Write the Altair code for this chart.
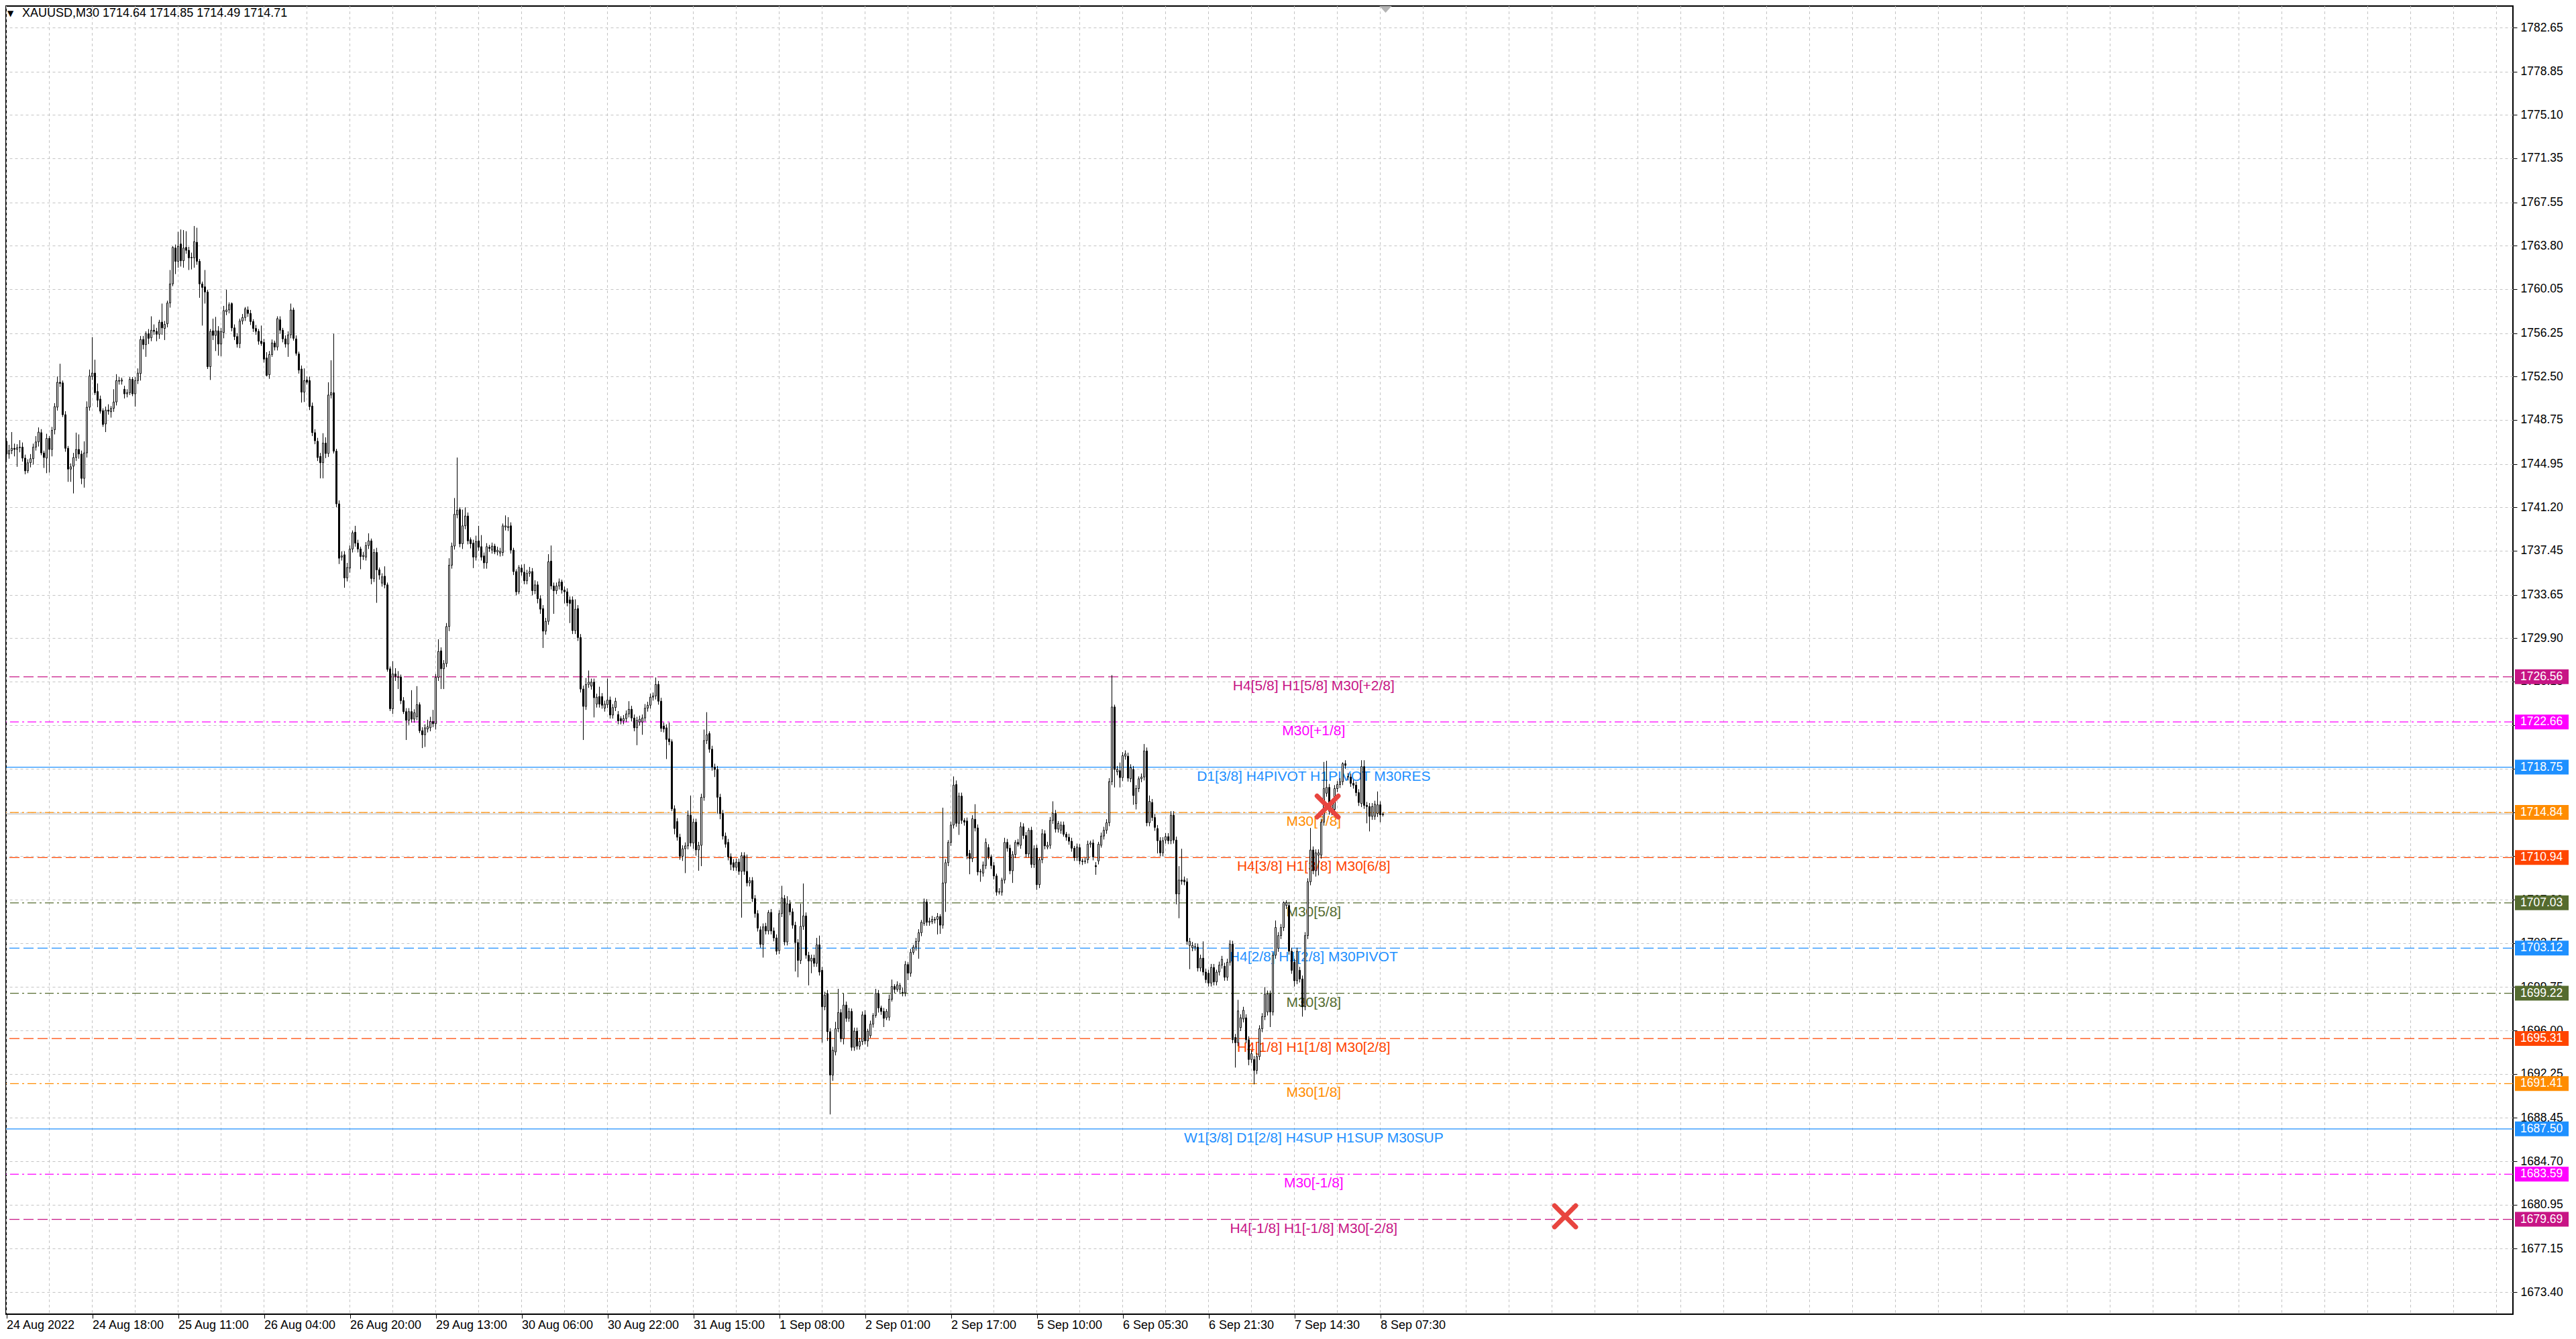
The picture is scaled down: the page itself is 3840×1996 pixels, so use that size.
import json
import altair as alt
import pandas as pd

# ---------------- data (XAUUSD, M30) ----------------
OPEN = [
1746.9,1745.8,1746.1,1746.3,1746.2,1746.35,1746.4,1745.45,1744.35,1745.05,
1745.4,1746.4,1746.85,1747.65,1745.9,1745.45,1747.15,1746.2,1747.9,1749.85,
1752.0,1751.95,1749.2,1746.3,1744.5,1744.75,1745.5,1746.2,1745.8,1743.7,
1745.9,1749.85,1752.5,1752.8,1751.2,1750.55,1749.55,1748.4,1749.6,1749.45,
1749.75,1750.3,1752.15,1752.1,1751.4,1751.0,1751.1,1752.25,1751.0,1752.15,
1752.75,1755.7,1755.25,1756.2,1755.85,1756.5,1756.4,1756.15,1757.2,1756.65,
1757.05,1758.85,1760.5,1763.6,1762.45,1763.95,1762.5,1763.65,1763.4,1762.75,
1762.75,1764.1,1762.45,1760.5,1760.25,1759.8,1753.35,1756.45,1756.05,1756.45,
1755.3,1756.3,1758.1,1758.25,1758.8,1756.7,1755.95,1755.35,1757.3,1757.6,
1758.25,1757.95,1757.25,1756.65,1756.4,1755.55,1755.45,1754.1,1752.65,1754.4,
1755.4,1755.05,1757.4,1756.5,1755.75,1755.3,1756.1,1758.25,1755.75,1754.45,
1753.15,1751.15,1752.2,1752.15,1749.95,1747.65,1746.9,1745.6,1745.05,1746.75,
1745.85,1750.9,1751.1,1746.05,1741.5,1736.9,1737.1,1735.1,1735.95,1737.6,
1739.05,1738.1,1737.6,1736.95,1736.9,1737.9,1738.3,1735.05,1737.3,1735.8,
1734.65,1735.25,1734.5,1727.25,1723.8,1726.8,1726.5,1726.55,1724.5,1723.55,
1722.8,1723.55,1722.9,1723.1,1724.15,1721.9,1721.55,1722.05,1722.15,1722.7,
1722.5,1726.5,1728.8,1727.25,1727.7,1730.9,1736.2,1737.85,1740.55,1741.0,
1738.05,1739.6,1740.45,1738.4,1738.1,1736.9,1738.3,1737.8,1737.0,1736.4,
1737.75,1737.5,1737.85,1737.35,1737.25,1737.3,1739.5,1739.45,1739.6,1737.5,
1735.65,1733.9,1735.95,1735.6,1734.85,1735.5,1735.65,1734.0,1734.5,1733.3,
1732.45,1730.5,1731.35,1736.55,1734.4,1734.0,1734.4,1734.75,1734.05,1733.9,
1733.2,1733.2,1730.55,1732.45,1729.95,1725.5,1724.0,1725.9,1725.75,1726.1,
1724.2,1724.85,1724.85,1723.85,1724.15,1724.55,1723.25,1723.9,1723.3,1722.95,
1722.75,1722.95,1723.35,1723.75,1723.0,1722.15,1722.65,1722.65,1723.0,1723.85,
1724.1,1724.8,1724.9,1725.9,1724.45,1722.3,1722.15,1721.2,1720.95,1715.15,
1714.05,1712.7,1711.05,1711.7,1711.95,1714.6,1712.2,1714.0,1711.6,1712.0,
1716.15,1721.05,1721.65,1720.3,1718.75,1718.55,1716.15,1714.75,1712.8,1712.25,
1711.0,1710.5,1710.1,1710.55,1709.75,1711.1,1709.75,1708.75,1708.95,1707.4,
1706.1,1704.7,1703.45,1705.0,1704.6,1706.2,1704.6,1704.0,1702.9,1706.1,
1707.4,1703.65,1706.95,1706.25,1705.1,1703.6,1702.05,1705.0,1705.9,1702.5,
1702.0,1702.25,1701.8,1703.4,1701.2,1698.05,1699.2,1695.9,1692.15,1694.15,
1696.15,1697.55,1695.3,1698.2,1697.05,1697.65,1694.55,1695.95,1694.65,1695.05,
1697.35,1695.1,1695.55,1696.55,1697.3,1699.2,1697.95,1697.65,1697.1,1697.15,
1698.7,1699.8,1699.55,1699.55,1699.3,1699.25,1701.7,1700.95,1702.75,1703.2,
1703.7,1704.45,1705.25,1707.1,1705.35,1705.4,1705.6,1705.6,1705.85,1705.1,
1708.75,1710.5,1712.25,1713.75,1717.25,1713.9,1716.25,1714.15,1714.1,1711.3,
1710.85,1714.25,1713.5,1709.7,1709.6,1710.25,1711.8,1711.0,1710.25,1709.35,
1707.95,1707.95,1709.0,1712.25,1711.75,1709.8,1711.2,1712.25,1712.0,1713.6,
1712.85,1711.25,1713.3,1710.35,1711.75,1708.6,1710.75,1713.0,1711.85,1712.0,
1714.15,1714.75,1713.4,1713.3,1713.75,1712.95,1712.7,1712.35,1711.75,1710.95,
1711.8,1710.65,1710.6,1710.75,1712.1,1712.2,1710.25,1710.65,1712.0,1712.8,
1713.3,1713.95,1717.5,1723.95,1718.35,1718.45,1717.85,1719.7,1719.7,1717.75,
1718.55,1715.6,1716.9,1717.75,1717.9,1720.15,1713.95,1715.7,1714.4,1713.45,
1712.4,1711.35,1712.45,1712.75,1712.4,1714.6,1712.45,1707.8,1709.0,1709.0,
1708.85,1703.35,1703.15,1703.2,1703.2,1701.4,1702.25,1701.05,1700.95,1700.1,
1701.45,1700.2,1701.05,1701.65,1701.55,1700.6,1701.9,1703.45,1695.4,1694.95,
1696.25,1697.0,1697.1,1695.2,1693.5,1693.5,1692.55,1693.75,1696.15,1697.2,
1697.6,1699.15,1697.6,1702.5,1703.1,1704.2,1704.9,1706.8,1706.8,1702.85,
1701.9,1700.3,1701.2,1700.45,1698.05,1704.2,1708.85,1711.6,1709.8,1711.15,
1711.15,1714.0,1716.5,1717.0,1714.95,1715.1,1716.9,1717.25,1717.5,1719.05,
1717.9,1717.9,1717.35,1717.2,1716.55,1715.6,1718.8,1715.45,1715.35,1714.5,
1714.5,1714.75,1715.5,1714.64,
]

CLOSE = [
1745.8,1746.1,1746.3,1746.2,1746.35,1746.4,1745.45,1744.35,1745.05,1745.4,
1746.4,1746.85,1747.7,1745.9,1745.5,1747.15,1746.2,1747.85,1749.9,1752.0,
1751.9,1749.2,1746.3,1744.5,1744.7,1745.5,1746.2,1745.8,1743.7,1745.9,
1749.85,1752.55,1752.8,1751.1,1750.45,1749.5,1748.35,1749.6,1749.5,1749.75,
1750.3,1752.15,1752.1,1752.2,1751.0,1751.1,1752.25,1751.0,1752.15,1752.8,
1755.7,1755.25,1756.2,1755.8,1756.5,1756.4,1756.15,1757.2,1756.7,1757.0,
1758.85,1760.5,1763.65,1762.45,1763.75,1762.5,1763.6,1763.4,1762.75,1762.8,
1764.15,1762.45,1760.5,1760.2,1759.8,1753.35,1756.4,1756.05,1756.45,1755.3,
1756.4,1758.2,1758.25,1758.7,1756.7,1755.95,1755.3,1757.3,1757.6,1758.35,
1757.95,1757.25,1756.65,1756.4,1755.55,1755.35,1754.0,1752.6,1754.4,1755.4,
1755.05,1757.5,1756.5,1755.75,1755.3,1756.1,1758.25,1755.8,1754.5,1753.05,
1751.15,1752.15,1752.0,1749.9,1747.65,1746.95,1745.5,1745.05,1746.75,1745.85,
1750.9,1751.1,1746.05,1741.5,1736.8,1737.0,1735.1,1736.0,1737.6,1739.0,
1738.1,1737.6,1736.95,1737.05,1737.9,1738.3,1735.05,1737.3,1735.8,1735.35,
1735.2,1734.5,1727.2,1723.8,1726.8,1726.6,1726.55,1724.5,1723.55,1722.8,
1723.55,1722.9,1723.45,1724.15,1721.9,1721.55,1722.15,1722.25,1722.7,1722.5,
1726.5,1728.75,1727.25,1727.7,1730.9,1736.2,1737.85,1740.6,1740.95,1738.05,
1739.6,1740.45,1738.3,1738.05,1736.9,1738.25,1737.75,1736.9,1736.4,1737.8,
1737.65,1737.85,1737.35,1737.5,1737.4,1739.6,1739.6,1739.55,1737.5,1735.65,
1733.9,1736.0,1735.6,1734.85,1735.5,1735.65,1734.0,1734.5,1733.3,1732.4,
1730.5,1731.35,1736.5,1734.4,1734.0,1734.4,1734.75,1734.05,1733.9,1732.95,
1732.9,1730.55,1732.4,1729.95,1725.5,1724.0,1725.9,1726.1,1726.1,1724.75,
1724.8,1724.2,1724.1,1724.2,1724.55,1723.25,1723.9,1724.45,1722.75,1722.75,
1722.95,1723.35,1723.75,1723.0,1722.15,1722.8,1722.9,1723.0,1723.85,1724.1,
1724.8,1724.9,1725.9,1724.45,1722.1,1722.05,1721.15,1720.95,1715.15,1713.45,
1712.7,1711.05,1711.7,1711.95,1714.6,1712.2,1714.0,1711.6,1712.0,1716.15,
1721.05,1721.55,1720.3,1718.75,1718.55,1716.15,1714.75,1712.8,1712.1,1711.0,
1710.35,1710.1,1710.55,1709.75,1711.1,1709.75,1708.75,1708.95,1707.4,1706.1,
1704.85,1703.45,1704.95,1704.6,1706.2,1704.6,1704.0,1702.85,1706.1,1707.45,
1703.65,1706.95,1706.25,1705.1,1703.6,1702.05,1705.0,1705.9,1702.5,1702.0,
1702.25,1701.8,1703.4,1701.05,1698.05,1699.05,1695.9,1692.15,1694.3,1696.15,
1697.55,1695.3,1698.2,1697.05,1697.65,1694.55,1695.95,1694.65,1695.05,1697.35,
1695.1,1695.95,1696.55,1697.3,1699.2,1697.95,1697.65,1697.05,1697.65,1698.7,
1699.8,1699.55,1699.95,1699.9,1699.25,1701.7,1700.95,1702.75,1703.2,1703.7,
1704.45,1705.35,1707.1,1705.35,1705.45,1705.6,1705.55,1705.85,1705.1,1708.75,
1710.5,1712.25,1713.75,1717.2,1713.9,1716.25,1714.15,1714.0,1711.1,1710.85,
1714.3,1713.5,1709.7,1709.75,1710.3,1712.25,1711.0,1710.25,1709.35,1707.95,
1708.0,1709.0,1712.25,1711.75,1709.8,1711.2,1712.25,1712.1,1713.6,1712.85,
1711.25,1713.3,1710.35,1711.7,1708.6,1710.75,1713.0,1711.95,1712.0,1714.15,
1714.75,1713.4,1713.9,1713.75,1712.95,1712.7,1712.35,1711.75,1710.95,1711.85,
1710.65,1710.6,1710.65,1712.1,1712.2,1711.0,1710.15,1712.1,1712.8,1713.3,
1713.95,1717.5,1723.95,1718.55,1718.55,1717.85,1719.75,1719.9,1717.8,1718.7,
1716.3,1716.9,1717.75,1717.9,1720.15,1713.95,1715.8,1714.4,1713.55,1712.4,
1711.35,1712.4,1712.75,1712.4,1714.6,1712.45,1707.8,1709.0,1708.9,1708.85,
1703.7,1703.7,1703.35,1703.25,1701.4,1702.25,1701.05,1700.4,1700.1,1701.45,
1700.2,1701.05,1701.65,1702.15,1700.6,1701.9,1703.45,1695.2,1694.95,1697.7,
1697.1,1697.75,1695.2,1693.5,1694.0,1692.55,1693.75,1696.15,1697.2,1699.15,
1699.15,1697.6,1702.5,1704.9,1704.2,1704.9,1707.05,1707.05,1702.85,1701.2,
1700.3,1702.85,1700.45,1698.05,1704.2,1708.85,1711.6,1709.8,1711.35,1711.35,
1714.0,1716.9,1717.0,1714.95,1715.6,1716.9,1717.25,1717.5,1719.05,1718.9,
1717.95,1717.35,1717.2,1716.55,1715.7,1718.8,1715.45,1715.35,1714.5,1715.35,
1715.55,1715.5,1714.64,1714.71,
]

WICK_UP = [
0.3,0.5,1.4,0.4,0.3,0.6,0.4,0.3,0.3,0.4,
0.3,0.5,0.4,0.3,0.2,0.4,0.2,0.3,0.3,0.5,
1.6,0.2,0.3,0.2,0.3,0.4,1.45,1.3,0.3,1.0,
0.5,0.55,3.1,1.15,0.7,0.3,0.2,0.3,0.5,0.2,
1.1,0.55,0.3,0.2,0.3,0.3,0.2,0.2,0.3,0.4,
0.3,0.3,0.2,0.4,1.2,0.5,0.3,0.2,1.6,0.3,
0.2,1.2,0.1,0.3,1.25,1.25,1.55,1.4,0.3,0.4,
1.35,1.25,0.2,0.2,1.45,0.2,0.2,1.05,1.2,0.4,
0.3,0.4,1.75,0.2,0.1,0.3,0.3,0.2,0.3,0.15,
0.3,0.3,0.2,0.3,0.2,1.35,0.3,0.5,0.3,0.3,
0.2,0.2,0.3,0.2,0.3,0.3,0.55,0.2,0.3,0.2,
0.3,1.05,0.3,0.35,0.3,0.3,0.3,0.3,0.85,0.5,
1.1,2.8,5.1,0.2,0.3,0.4,0.3,0.4,0.3,0.2,
0.55,0.3,0.2,0.3,0.3,0.65,0.2,0.3,0.4,0.2,
0.3,0.85,0.2,0.2,1.1,0.5,0.5,0.2,0.3,0.3,
0.3,1.85,0.3,1.6,0.2,0.3,0.3,0.6,0.4,1.0,
0.3,1.05,0.3,0.3,0.3,0.6,0.3,1.4,4.55,0.2,
1.4,0.75,0.3,0.2,0.3,0.5,1.3,1.0,0.3,0.3,
0.2,0.3,0.2,0.3,0.3,0.2,0.9,0.8,0.3,0.2,
0.2,0.2,0.3,0.7,0.3,0.4,0.3,0.4,0.3,0.3,
0.3,0.3,0.65,1.35,0.3,0.3,0.3,0.2,0.3,0.3,
0.3,0.3,0.85,0.3,0.3,0.3,0.55,1.0,0.3,0.3,
0.3,0.85,0.3,0.3,1.85,0.3,0.3,0.3,0.3,0.2,
0.3,0.3,0.7,0.3,0.3,0.3,0.3,0.3,0.35,0.3,
0.3,0.3,0.6,0.3,0.3,0.3,0.3,1.4,0.2,0.3,
0.3,0.3,0.3,0.3,0.4,1.7,0.3,0.3,0.3,0.3,
0.95,1.95,0.2,0.3,0.3,0.3,0.3,0.3,0.3,0.3,
0.3,0.3,0.3,0.3,0.3,0.3,1.45,0.3,0.3,0.3,
0.3,0.3,0.3,0.3,0.2,0.3,0.3,0.3,0.3,1.05,
0.3,0.65,0.3,0.3,0.3,0.3,1.95,2.8,0.3,0.3,
0.3,0.3,0.6,0.8,0.3,0.3,0.3,0.3,0.3,0.6,
2.05,0.3,1.0,0.3,0.3,0.25,0.3,0.3,0.3,0.3,
0.4,0.2,0.3,0.2,0.4,0.3,0.2,0.3,0.2,0.4,
0.6,0.2,0.3,0.2,0.4,0.3,0.2,0.3,0.2,0.3,
0.3,0.2,0.3,0.25,0.3,0.3,0.2,0.3,0.2,6.5,
0.3,0.2,0.3,0.75,0.35,0.3,0.3,0.2,0.3,0.3,
0.3,1.3,0.3,0.2,0.3,0.35,0.3,0.2,0.3,0.2,
0.3,0.2,0.4,0.3,0.3,0.3,0.2,0.3,0.4,0.3,
0.3,0.2,0.3,0.3,0.3,0.2,0.4,0.3,0.3,0.3,
1.05,0.3,0.2,0.3,0.3,0.2,0.3,0.3,0.2,0.3,
0.3,0.2,0.3,0.3,0.2,0.3,0.3,0.2,0.3,0.3,
0.3,0.3,2.75,0.2,0.3,0.7,0.3,0.3,0.3,0.3,
0.3,0.3,0.2,0.3,0.6,0.3,0.5,0.3,0.3,0.3,
0.3,0.3,0.3,0.3,0.35,0.35,0.3,1.2,2.7,0.3,
0.3,0.3,0.3,0.3,0.3,0.3,1.45,0.3,0.3,0.3,
0.3,0.2,0.3,0.3,0.3,0.3,0.35,0.3,0.3,0.95,
0.3,0.3,0.3,0.3,0.3,0.3,0.3,0.3,0.3,0.6,
0.3,0.3,0.25,0.6,0.3,0.3,0.1,0.2,0.3,0.3,
0.3,0.3,0.3,0.3,0.3,0.3,1.9,0.3,0.3,0.3,
0.3,2.3,2.3,0.3,0.3,0.3,0.3,0.3,0.12,0.3,
0.3,0.3,0.3,0.3,0.3,0.55,0.55,0.3,0.3,0.3,
0.3,1.15,0.3,0.14,
]

WICK_DN = [
0.5,0.4,0.3,0.6,1.5,0.4,0.3,0.3,0.2,0.4,
0.5,0.3,0.4,0.2,0.9,1.3,2.0,0.6,0.4,0.3,
0.3,0.2,0.3,1.1,1.1,2.35,0.3,0.4,0.5,0.8,
0.4,0.3,0.3,0.2,0.6,0.2,0.2,0.7,0.3,0.5,
0.3,0.3,0.3,0.3,0.4,0.3,0.2,0.2,1.1,0.3,
0.6,0.4,1.05,0.5,0.3,0.3,0.6,0.4,0.6,1.0,
0.3,0.4,0.2,1.1,0.55,0.5,0.6,0.3,1.05,1.0,
0.85,0.3,1.2,3.3,1.0,0.2,1.15,0.4,1.35,1.0,
1.05,0.5,0.3,0.3,0.3,0.3,0.3,0.4,0.3,0.3,
0.3,0.3,0.3,0.3,0.3,0.2,0.3,0.1,0.35,0.2,
0.3,0.3,0.3,0.3,0.3,1.1,0.3,0.2,0.2,0.3,
0.9,0.85,0.2,0.3,0.3,0.3,0.3,1.35,1.35,0.4,
0.3,0.3,0.2,0.3,0.5,0.3,0.85,0.3,0.4,0.3,
0.3,0.3,1.1,0.3,0.3,0.3,0.5,0.3,2.85,0.4,
0.3,0.3,0.2,0.2,0.45,0.4,1.0,0.3,0.2,1.7,
0.4,0.3,0.3,0.3,0.2,1.15,1.05,0.3,0.3,0.3,
0.5,0.3,1.75,1.75,0.3,0.4,0.3,0.3,0.3,0.3,
0.45,0.3,0.3,0.4,0.95,0.3,0.3,0.3,0.5,0.5,
0.3,0.3,0.2,0.3,0.3,0.3,0.3,0.3,0.3,0.3,
0.3,0.2,0.3,0.3,0.3,0.3,0.4,0.3,0.4,0.4,
1.45,0.3,0.3,0.3,2.0,0.3,0.3,0.3,1.0,0.3,
1.7,0.3,0.3,0.3,0.3,2.9,0.3,0.3,0.3,1.7,
0.3,0.3,0.3,0.3,0.3,0.3,0.3,0.3,0.3,0.3,
0.3,0.3,0.3,0.3,0.3,1.5,0.3,1.1,0.3,0.3,
0.3,0.3,0.3,0.3,0.3,0.3,1.7,0.3,0.2,0.5,
0.3,0.3,0.4,2.1,0.3,0.3,0.5,0.5,1.8,1.8,
0.3,0.3,0.3,0.3,0.65,1.4,0.5,0.3,0.3,0.3,
0.5,0.3,0.3,0.3,4.0,0.3,0.3,0.3,0.3,0.35,
0.3,0.3,1.15,0.3,0.3,0.3,0.3,0.3,0.3,0.3,
0.3,0.3,0.3,0.3,2.5,1.45,0.3,0.3,0.3,2.1,
1.05,0.3,0.3,0.3,3.1,0.3,0.8,3.4,0.5,0.3,
0.3,0.3,0.5,0.3,0.3,0.3,0.3,0.3,0.3,0.3,
0.3,0.5,0.2,0.3,0.2,0.4,0.3,0.75,0.2,0.3,
0.2,0.3,0.2,0.4,0.3,0.3,0.6,0.3,0.2,0.3,
1.5,0.3,0.2,0.3,0.3,0.2,0.3,1.3,0.75,0.3,
2.5,0.3,0.3,0.3,0.3,1.0,0.3,0.3,0.3,1.35,
0.3,0.3,0.3,0.85,0.3,0.3,0.2,0.3,0.3,0.3,
0.2,0.3,0.3,0.3,0.3,1.05,0.3,0.2,0.3,0.3,
0.3,0.3,0.3,0.3,0.45,0.3,0.3,0.3,0.2,0.3,
0.3,0.3,0.3,0.3,0.2,0.3,0.3,0.3,0.3,0.3,
0.3,0.3,0.2,0.3,0.3,0.3,0.7,0.3,0.2,0.3,
0.3,0.3,0.3,1.55,0.3,0.85,0.3,0.3,0.3,0.3,
0.8,0.5,0.3,0.3,0.3,0.3,0.3,0.3,0.3,1.1,
0.3,0.3,0.3,0.3,0.3,0.3,0.9,2.1,0.3,0.3,
0.3,2.05,0.3,0.3,0.3,0.3,0.3,0.3,0.3,0.3,
0.3,0.3,0.3,0.3,0.3,0.3,0.3,0.3,2.15,0.3,
0.3,0.3,0.3,0.5,0.3,1.2,0.3,0.3,0.3,0.3,
0.3,1.3,0.3,0.3,0.3,0.3,0.3,0.3,0.3,0.3,
0.5,0.3,0.3,0.85,0.3,0.3,0.3,0.3,0.5,1.75,
0.3,0.3,0.3,0.3,0.35,0.4,0.3,0.3,0.3,0.3,
0.3,0.3,0.3,0.3,0.3,0.3,0.3,1.45,1.3,0.3,
0.3,0.3,0.65,0.15,
]

TIME_LABELS = ["24 Aug 2022", "24 Aug 18:00", "25 Aug 11:00", "26 Aug 04:00", "26 Aug 20:00",
               "29 Aug 13:00", "30 Aug 06:00", "30 Aug 22:00", "31 Aug 15:00", "1 Sep 08:00",
               "2 Sep 01:00", "2 Sep 17:00", "5 Sep 10:00", "6 Sep 05:30", "6 Sep 21:30",
               "7 Sep 14:30", "8 Sep 07:30"]
TIME_LABEL_BAR = [0, 32, 64, 96, 128, 160, 192, 224, 256, 288, 320, 352, 384, 416, 448, 480, 512]
GRID_BAR = list(range(0, 935, 16))

PRICE_TICKS = [1782.65, 1778.85, 1775.10, 1771.35, 1767.55, 1763.80, 1760.05, 1756.25, 1752.50,
               1748.75, 1744.95, 1741.20, 1737.45, 1733.65, 1729.90, 1726.15, 1722.35, 1718.60,
               1714.85, 1711.05, 1707.30, 1703.55, 1699.75, 1696.00, 1692.25, 1688.45, 1684.70,
               1680.95, 1677.15, 1673.40]

LEVEL_PRICE = [1726.56, 1722.66, 1718.75, 1714.84, 1710.94, 1707.03, 1703.12, 1699.22,
               1695.31, 1691.41, 1687.50, 1683.59, 1679.69]
LEVEL_NAME = ["H4[5/8] H1[5/8] M30[+2/8]", "M30[+1/8]", "D1[3/8] H4PIVOT H1PIVOT M30RES",
              "M30[7/8]", "H4[3/8] H1[3/8] M30[6/8]", "M30[5/8]", "H4[2/8] H1[2/8] M30PIVOT",
              "M30[3/8]", "H4[1/8] H1[1/8] M30[2/8]", "M30[1/8]",
              "W1[3/8] D1[2/8] H4SUP H1SUP M30SUP", "M30[-1/8]", "H4[-1/8] H1[-1/8] M30[-2/8]"]
LEVEL_COLOR = ["#C71585", "#FF00FF", "#1E90FF", "#FF8C00", "#FF4500", "#556B2F", "#1E90FF",
               "#556B2F", "#FF4500", "#FF8C00", "#1E90FF", "#FF00FF", "#C71585"]
LEVEL_STYLE = ["dash", "dashdot", "solid", "dashdot", "dash", "dashdot", "dash", "dashdot",
               "dash", "dashdot", "solid", "dashdot", "dash"]

CROSS_BAR = [492.4, 580.9]
CROSS_PRICE = [1715.35, 1679.95]
BID = 1714.71
SHIFT_BAR = 514
HEADER = "XAUUSD,M30  1714.64 1714.85 1714.49 1714.71"

assert len(OPEN) == len(CLOSE) == len(WICK_UP) == len(WICK_DN), (len(OPEN), len(CLOSE), len(WICK_UP), len(WICK_DN))

# ---------------- tables ----------------
rows = []
for i, (o, c, wu, wd) in enumerate(zip(OPEN, CLOSE, WICK_UP, WICK_DN)):
    top, bot = max(o, c), min(o, c)
    rows.append({"bar": i, "open": o, "close": c, "top": top, "bot": bot,
                 "high": round(top + wu, 2), "low": round(bot - wd, 2),
                 "fill": "#FFFFFF" if c >= o else "#000000"})
candles = pd.DataFrame(rows)
levels = pd.DataFrame({"price": LEVEL_PRICE, "name": LEVEL_NAME, "color": LEVEL_COLOR, "style": LEVEL_STYLE})
grid = pd.DataFrame({"bar": GRID_BAR})
crosses = pd.DataFrame({"bar": CROSS_BAR, "price": CROSS_PRICE})

# ---------------- layout ----------------
W, H = 3737, 1950
FONT = "Liberation Sans"
xscale = alt.Scale(domain=[-0.125, 934.125], nice=False, zero=False, padding=0)
yscale = alt.Scale(domain=[1671.494, 1784.505], nice=False, zero=False, padding=0)

label_expr = f"{json.dumps(TIME_LABELS)}[indexof({json.dumps(TIME_LABEL_BAR)}, datum.value)]"
xaxis = alt.Axis(values=TIME_LABEL_BAR, labelExpr=label_expr, orient="bottom", grid=False,
                 ticks=True, tickSize=6, tickColor="#000000", domain=False, labelAlign="left",
                 labelBaseline="top", labelPadding=1, labelFont=FONT, labelFontSize=18,
                 labelColor="#000000", title=None, labelOverlap=False, labelFlush=False,
                 labelBound=False)
yaxis = alt.Axis(values=PRICE_TICKS, format=".2f", orient="right", grid=True,
                 gridColor="#C4C4C4", gridDash=[4, 4], gridWidth=1, ticks=True, tickSize=6,
                 tickColor="#000000", domain=False, labelFont=FONT, labelFontSize=17.5,
                 labelColor="#000000", labelPadding=5, labelAlign="left", title=None,
                 labelOverlap=False, labelFlush=False, labelBound=False)

def X(field):
    return alt.X(field, type="quantitative", scale=xscale, axis=xaxis)

def Y(field):
    return alt.Y(field, type="quantitative", scale=yscale, axis=yaxis)

# the axes layer: carries both axes (ticks, labels, grid)
axes_layer = alt.Chart(candles).mark_rule(opacity=0).encode(x=X("bar"), y=Y("close"))

vgrid = alt.Chart(grid).mark_rule(color="#C4C4C4", strokeDash=[4, 4], strokeWidth=1).encode(
    x=X("bar"))

dash_map = {"dash": [15, 6], "dashdot": [13, 5, 3, 5], "solid": [1, 0]}
level_lines = []
for style, dash in dash_map.items():
    sub = levels[levels["style"] == style]
    level_lines.append(
        alt.Chart(sub).mark_rule(strokeWidth=1.3, strokeDash=dash).encode(
            y=Y("price"), color=alt.Color("color:N", scale=None)))

bid_line = alt.Chart(pd.DataFrame({"price": [BID]})).mark_rule(
    color="#B4B4B4", strokeWidth=1).encode(y=Y("price"))

level_text = alt.Chart(levels).mark_text(
    align="center", baseline="alphabetic", dy=20, font=FONT, fontSize=21).encode(
    x=alt.XDatum(487.2, type="quantitative", scale=xscale, axis=xaxis),
    y=Y("price"), text="name:N", color=alt.Color("color:N", scale=None))

wicks = alt.Chart(candles).mark_rule(color="#000000", strokeWidth=1).encode(
    x=X("bar"), y=Y("low"), y2="high")

bodies = alt.Chart(candles).mark_rect(
    stroke="#000000", strokeWidth=1, xOffset=-1, x2Offset=1).encode(
    x=X("bar"), x2="bar", y=Y("bot"), y2="top", fill=alt.Fill("fill:N", scale=None))

cross_mark = alt.Chart(crosses).mark_point(
    shape="M-1,-1L1,1M-1,1L1,-1", filled=False, size=1000, strokeWidth=7,
    strokeCap="round", color="#E8453F", opacity=1).encode(x=X("bar"), y=Y("price"))

# chart-shift marker at the top edge
shift_mark = alt.Chart(pd.DataFrame({"bar": [SHIFT_BAR]})).mark_point(
    shape="M-1,-0.55L1,-0.55L0,0.55Z", filled=True, size=330, color="#B4B4B4",
    opacity=1).encode(x=X("bar"), y=alt.value(5))

header_df = pd.DataFrame({"t": [HEADER]})
header_tri = alt.Chart(header_df).mark_text(
    text="▼", align="left", baseline="middle", font="DejaVu Sans", fontSize=12,
    color="#000000").encode(x=alt.value(2), y=alt.value(11))
header = alt.Chart(header_df).mark_text(
    align="left", baseline="middle", font=FONT, fontSize=18, color="#000000").encode(
    x=alt.value(24), y=alt.value(11), text="t:N")

boxes = alt.Chart(levels).mark_rect(yOffset=-11, y2Offset=11).encode(
    x=alt.value(W + 3), x2=alt.value(W + 83), y=Y("price"), y2="price",
    color=alt.Color("color:N", scale=None))
box_text = alt.Chart(levels).mark_text(
    align="left", baseline="middle", font=FONT, fontSize=17.5, color="#FFFFFF").encode(
    x=alt.value(W + 11), y=Y("price"), text=alt.Text("price:Q", format=".2f"))

chart = alt.layer(
    axes_layer, vgrid, *level_lines, bid_line, level_text, wicks, bodies, cross_mark,
    shift_mark, header_tri, header, boxes, box_text
).properties(
    width=W, height=H,
    autosize=alt.AutoSizeParams(type="none"),
    padding={"left": 1, "top": 1, "right": 86, "bottom": 29},
    background="#FFFFFF",
).configure_view(stroke="#000000", strokeWidth=2)

chart.save("out.html", embed_options={"renderer": "svg", "actions": False})
